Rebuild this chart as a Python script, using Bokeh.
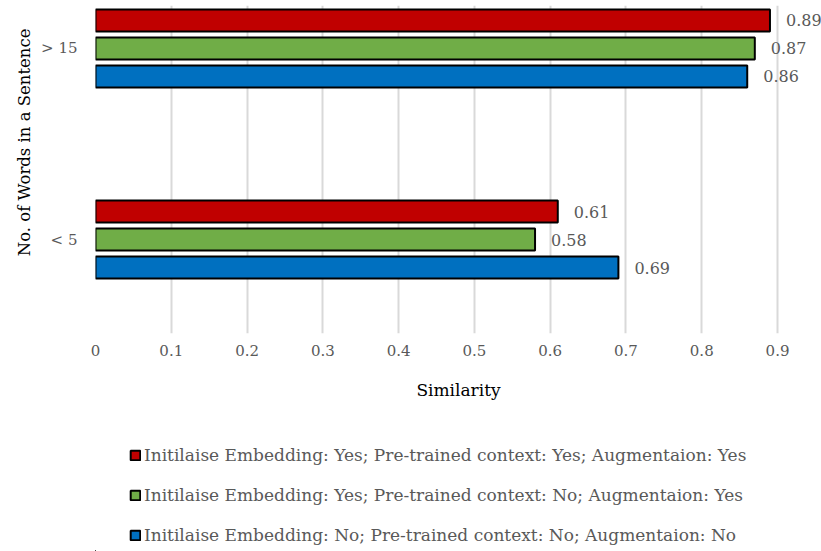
from bokeh.plotting import figure
from bokeh.layouts import column
from bokeh.core.properties import value
from bokeh.models import (ColumnDataSource, FixedTicker, CustomJSTickFormatter, Legend,
                          LegendItem, LabelSet, Title, Range1d)
from bokeh.transform import dodge
from bokeh.embed import file_html
from bokeh.resources import INLINE

categories = ["< 5", "> 15"]
cat_pos = [0, 1]
series_names = [
    "Initilaise Embedding: Yes; Pre-trained context: Yes; Augmentaion: Yes",
    "Initilaise Embedding: Yes; Pre-trained context: No; Augmentaion: Yes",
    "Initilaise Embedding: No; Pre-trained context: No; Augmentaion: No",
]
red_vals = [0.61, 0.89]
green_vals = [0.58, 0.87]
blue_vals = [0.69, 0.86]
x_ticks = [0, 0.1, 0.2, 0.3, 0.4, 0.5, 0.6, 0.7, 0.8, 0.9]

colors = ["#C00000", "#70AD47", "#0070C0"]
offsets = [0.1466, 0.0, -0.1466]
FONT = "DejaVu Serif"

p = figure(width=821, height=420, output_backend="svg", toolbar_location=None,
           x_range=Range1d(0, 0.958), y_range=Range1d(-0.492, 1.225),
           min_border_left=95, min_border_right=0, min_border_top=5, min_border_bottom=87)
p.outline_line_color = None
p.background_fill_color = "white"
p.border_fill_color = "white"

series = [red_vals, green_vals, blue_vals]
for vals, col, off in zip(series, colors, offsets):
    src = ColumnDataSource(dict(y=cat_pos, v=vals, lab=["%.2f" % v for v in vals]))
    p.hbar(y=dodge("y", off, range=p.y_range), right="v", left=0, height=0.115,
           source=src, fill_color=col, line_color="black", line_width=2)
    ls = LabelSet(x="v", y=dodge("y", off, range=p.y_range), text="lab", source=src,
                  x_offset=16, text_align="left", text_baseline="middle",
                  text_font=value(FONT), text_font_size=value("16px"), text_color="#595959")
    p.add_layout(ls)

# axes
p.xaxis.ticker = FixedTicker(ticks=x_ticks)
p.xaxis.formatter = CustomJSTickFormatter(code="return String(Math.round(tick*10)/10)")
p.xaxis.axis_line_color = None
p.xaxis.major_tick_line_color = None
p.xaxis.minor_tick_line_color = None
p.xaxis.major_label_text_font = FONT
p.xaxis.major_label_text_font_size = "15px"
p.xaxis.major_label_text_color = "#595959"
p.xaxis.major_label_standoff = 5
p.xaxis.axis_label = "Similarity"
p.xaxis.axis_label_text_font = FONT
p.xaxis.axis_label_text_font_size = "17px"
p.xaxis.axis_label_text_font_style = "normal"
p.xaxis.axis_label_text_color = "black"
p.xaxis.axis_label_standoff = 21

p.yaxis.ticker = FixedTicker(ticks=cat_pos)
p.yaxis.major_label_overrides = {c: t for c, t in zip(cat_pos, categories)}
p.yaxis.axis_line_color = None
p.yaxis.major_tick_line_color = None
p.yaxis.minor_tick_line_color = None
p.yaxis.major_label_text_font = FONT
p.yaxis.major_label_text_font_size = "15px"
p.yaxis.major_label_text_color = "#595959"
p.yaxis.major_label_standoff = 12

p.xgrid.grid_line_color = "#D9D9D9"
p.xgrid.grid_line_width = 2
p.ygrid.grid_line_color = None

ytitle = Title(text="No. of Words in a Sentence", align="right", offset=23,
               text_font=FONT, text_font_size="16.5px", text_font_style="normal",
               text_color="black")
p.add_layout(ytitle, "left")

# legend figure below the chart
lf = figure(width=821, height=131, output_backend="svg", toolbar_location=None,
            x_range=Range1d(10, 11), y_range=Range1d(10, 11),
            min_border=0, x_axis_type=None, y_axis_type=None)
lf.outline_line_color = None
lf.xgrid.grid_line_color = None
lf.ygrid.grid_line_color = None
leg_renderers = []
for vals, col in zip(series, colors):
    src = ColumnDataSource(dict(y=cat_pos, v=vals))
    r = lf.hbar(y="y", right="v", left=0, height=0.1, source=src,
                fill_color=col, line_color="black", line_width=2)
    leg_renderers.append(r)
legend = Legend(items=[LegendItem(label=n, renderers=[r]) for n, r in zip(series_names, leg_renderers)],
                orientation="vertical", location=(34, 6), border_line_color=None,
                background_fill_alpha=0, padding=0, margin=0, spacing=20,
                glyph_width=12, glyph_height=12, label_height=20, label_standoff=3,
                label_text_font=FONT, label_text_font_size="17px", label_text_color="#595959")
lf.add_layout(legend)

layout = column(p, lf, spacing=0)
open("out.html", "w").write(file_html(layout, INLINE))
